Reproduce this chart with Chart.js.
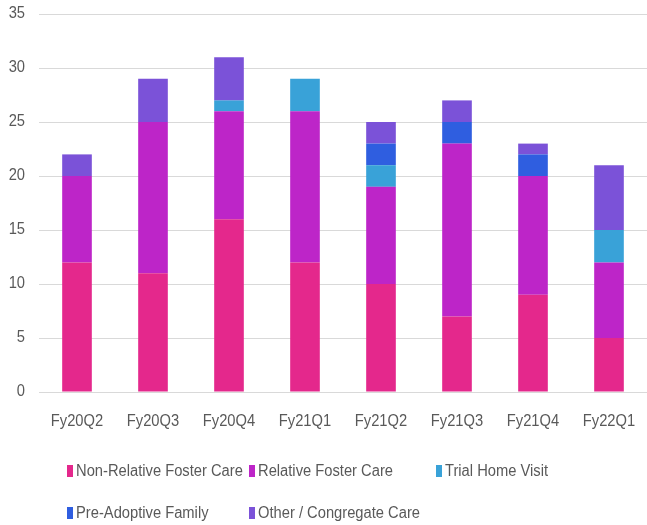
<!DOCTYPE html>
<html>
<head>
<meta charset="utf-8">
<script src="https://cdn.jsdelivr.net/npm/chart.js@4"></script>
<style>
  html, body { margin: 0; padding: 0; background: #fff; }
  #wrap { position: relative; width: 647px; height: 525px; }
  #legend { position: absolute; left: 0; top: 0; width: 647px; height: 525px; pointer-events: none;
            font-family: "Liberation Sans", sans-serif; font-size: 16px; color: #595959; }
  .item { position: absolute; white-space: nowrap; height: 16px; display: flex; align-items: center; }
  .box { display: inline-block; width: 6px; height: 12px; }
  .txt { display: inline-block; transform: scaleX(0.92); transform-origin: 0 50%; margin-left: 3px; }
</style>
</head>
<body>
<div id="wrap">
  <canvas id="chart" width="647" height="525"></canvas>
  <div id="legend"></div>
</div>
<script>
// ================= DATA =================
const quarters = ["Fy20Q2", "Fy20Q3", "Fy20Q4", "Fy21Q1", "Fy21Q2", "Fy21Q3", "Fy21Q4", "Fy22Q1"];
const nonRelative = [12, 11, 16, 12, 10, 7, 9, 5];
const relative    = [8, 14, 10, 14, 9, 16, 11, 7];
const trialHome   = [0, 0, 1, 3, 2, 0, 0, 3];
const preAdoptive = [0, 0, 0, 0, 2, 2, 2, 0];
const otherCare   = [2, 4, 4, 0, 2, 2, 1, 6];
const yTicks = [0, 5, 10, 15, 20, 25, 30, 35];

const seriesNames = ["Non-Relative Foster Care", "Relative Foster Care", "Trial Home Visit", "Pre-Adoptive Family", "Other / Congregate Care"];
const seriesColors = ["#e4288c", "#bd25c8", "#39a2d8", "#2f5ee0", "#7b52d8"];
const seriesData = [nonRelative, relative, trialHome, preAdoptive, otherCare];

const FONT = "16px 'Liberation Sans', sans-serif";
const TEXT_COLOR = "#595959";
const SQUEEZE = 0.92;   // the original font is a bit narrower than Liberation Sans

// ================= TICK LABELS =================
// draws the axis labels slightly squeezed, positions come from the scales
const narrowTicks = {
    id: "narrowTicks",
    afterDraw(chart) {
        const ctx = chart.ctx;
        const xs = chart.scales.x;
        const ys = chart.scales.y;
        ctx.save();
        ctx.font = FONT;
        ctx.fillStyle = TEXT_COLOR;
        ctx.textBaseline = "middle";

        ctx.textAlign = "center";
        xs.ticks.forEach((t, i) => {
            ctx.save();
            ctx.translate(xs.getPixelForTick(i), xs.top + 30);
            ctx.scale(SQUEEZE, 1);
            ctx.fillText(quarters[i], 0, 0);
            ctx.restore();
        });

        ctx.textAlign = "right";
        ys.ticks.forEach(t => {
            ctx.save();
            ctx.translate(25, ys.getPixelForValue(t.value));
            ctx.scale(SQUEEZE, 1);
            ctx.fillText(String(t.value), 0, 0);
            ctx.restore();
        });
        ctx.restore();
    }
};

// ================= CHART =================
const datasets = seriesData.map((d, i) => ({
    label: seriesNames[i],
    data: d,
    backgroundColor: seriesColors[i],
    borderWidth: 0,
    categoryPercentage: 1,
    barPercentage: 0.39
}));

new Chart(document.getElementById("chart"), {
    type: "bar",
    data: { labels: quarters, datasets: datasets },
    plugins: [narrowTicks],
    options: {
        responsive: false,
        animation: false,
        layout: { padding: { top: 14, right: 0, left: 0, bottom: 0 } },
        plugins: {
            legend: { display: false },
            tooltip: { enabled: false }
        },
        scales: {
            x: {
                stacked: true,
                grid: { display: false, drawTicks: false },
                border: { display: false },
                ticks: { display: false },
                afterFit: s => { s.height = 133; s.paddingLeft = 0; s.paddingRight = 0; }
            },
            y: {
                stacked: true,
                min: 0,
                max: 35,
                afterBuildTicks: s => { s.ticks = yTicks.map(v => ({ value: v })); },
                grid: { color: "#d9d9d9", lineWidth: 1, drawTicks: false },
                border: { display: false },
                ticks: { display: false },
                afterFit: s => { s.width = 39; s.paddingTop = 0; s.paddingBottom = 0; }
            }
        }
    }
});

// ================= LEGEND =================
const legendPos = [[67, 463], [249, 463], [436, 463], [67, 505], [249, 505]];
const legendEl = document.getElementById("legend");
seriesNames.forEach((name, i) => {
    legendEl.innerHTML += `
        <div class="item" style="left:${legendPos[i][0]}px;top:${legendPos[i][1]}px">
            <span class="box" style="background:${seriesColors[i]}"></span><span class="txt">${name}</span>
        </div>`;
});
</script>
</body>
</html>
